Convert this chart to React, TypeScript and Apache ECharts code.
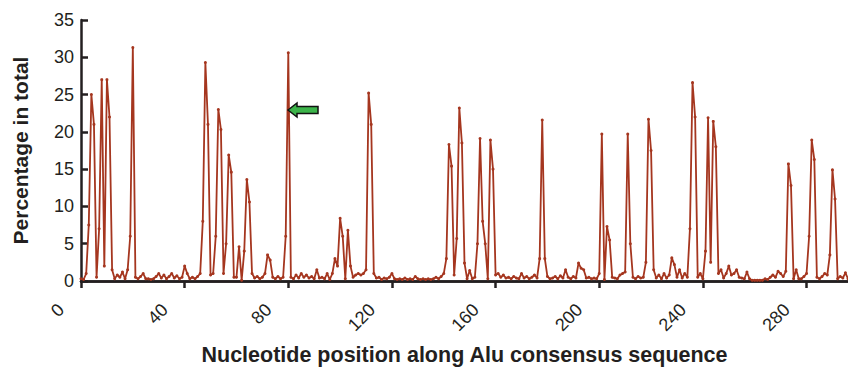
import React, { useEffect, useRef } from "react";
import * as echarts from "echarts";

// Percentage in total at each nucleotide position 0..296
const percentages: number[] = [
  0.3, 0.2, 1.0, 7.5, 25, 21, 0.5, 7, 27, 2,
  27, 22, 1.5, 0.3, 0.8, 0.5, 1.2, 0.3, 1.5, 6,
  31.3, 0.5, 0.3, 0.6, 1.0, 0.3, 0.3, 0.2, 0.3, 0.6,
  1.0, 0.4, 0.8, 0.3, 0.6, 1.0, 0.4, 0.7, 0.3, 0.5,
  2.0, 1.0, 0.3, 0.5, 0.3, 0.6, 1.0, 8, 29.3, 21,
  0.8, 1.0, 6, 23, 20.3, 1.0, 5, 16.9, 14.6, 0.5,
  0.5, 4.6, 0.1, 4, 13.6, 10.6, 1.0, 0.4, 0.6, 0.3,
  0.5, 1.0, 3.5, 2.8, 0.5, 0.3, 0.6, 0.3, 0.5, 6,
  30.6, 0.5, 0.3, 0.8, 0.4, 1.0, 0.5, 0.8, 0.4, 0.6,
  0.3, 1.5, 0.4, 0.5, 0.3, 1.0, 0.2, 1.0, 3.0, 2.0,
  8.4, 6, 0.3, 6.8, 2, 0.5, 0.8, 1.0, 0.8, 1.0,
  1.5, 25.2, 21, 1.0, 0.4, 0.5, 0.2, 0.4, 0.3, 0.5,
  1.0, 0.3, 0.2, 0.3, 0.2, 0.4, 0.2, 0.3, 0.2, 0.6,
  0.3, 0.2, 0.3, 0.2, 0.3, 0.2, 0.3, 0.5, 0.3, 0.6,
  1.0, 3, 18.3, 15.4, 0.8, 5.7, 23.2, 18.5, 2.4, 0.3,
  1.4, 0.3, 0.5, 5, 19.1, 8, 5, 0.3, 18.9, 15,
  0.8, 1.0, 0.5, 0.8, 0.4, 0.5, 0.3, 0.6, 0.4, 0.3,
  1.0, 0.4, 0.6, 0.3, 0.5, 0.8, 0.4, 3, 21.6, 3,
  0.6, 0.3, 0.4, 0.6, 0.3, 0.7, 0.4, 1.5, 0.5, 0.3,
  0.6, 0.4, 2.4, 1.7, 1.5, 0.4, 0.5, 0.3, 0.4, 0.3,
  1.0, 19.7, 0.2, 7.3, 5.5, 0.5, 0.4, 0.3, 0.8, 1.0,
  1.2, 19.7, 5, 0.5, 0.3, 0.6, 0.4, 0.5, 2.5, 21.7,
  17.5, 1.5, 0.4, 0.8, 0.3, 1.0, 0.4, 0.8, 3.1, 2.2,
  0.5, 1.5, 0.4, 1.0, 0.5, 7, 26.6, 22, 0.5, 1.0,
  0.3, 4, 21.9, 2.5, 21.4, 18, 1.0, 1.5, 0.4, 1.0,
  2.0, 0.8, 1.0, 1.5, 0.5, 0.4, 0.3, 1.2, 0.3, 0.1,
  0.1, 0.1, 0.1, 0.1, 0.3, 0.2, 0.5, 0.8, 0.5, 1.3,
  1.0, 0.6, 1.3, 15.7, 12.8, 0.3, 1.5, 0.3, 0.3, 0.6,
  1.0, 6, 18.9, 16.3, 0.5, 0.3, 0.6, 1.0, 0.8, 3.5,
  14.9, 11, 0.3, 0.6, 0.4, 1.1, 0.3,
];

const xTicks: number[] = [0, 40, 80, 120, 160, 200, 240, 280];
const yTicks: number[] = [0, 5, 10, 15, 20, 25, 30, 35];
const xMax = 296;
const yMax = 35;

const FONT = "'Liberation Sans', Arial, Helvetica, sans-serif";
const LINE = "#a5361f";
const AXIS = "#231f20";

export default function App() {
  const ref = useRef<HTMLDivElement>(null);

  useEffect(() => {
    if (!ref.current) return;
    const chart = echarts.init(ref.current, undefined, { renderer: "svg" });
    const data = percentages.map((v, i) => [i, v]);

    chart.setOption({
      animation: false,
      backgroundColor: "#ffffff",
      textStyle: { fontFamily: FONT },
      grid: { left: 81, right: 0, top: 20, bottom: 81, containLabel: false },
      xAxis: [
        {
          type: "value",
          min: 0,
          max: xMax,
          interval: 40,
          position: "bottom",
          name: "Nucleotide position along Alu consensus sequence",
          nameLocation: "middle",
          nameGap: 63,
          nameTextStyle: { fontFamily: FONT, fontSize: 21.5, fontWeight: "bold", color: AXIS },
          axisLine: { show: true, onZero: false, lineStyle: { color: AXIS, width: 2.5 } },
          axisTick: { show: true, inside: false, length: 7, lineStyle: { color: AXIS, width: 2.5 } },
          axisLabel: {
            rotate: 45,
            margin: 6,
            padding: [0, 28, 0, 0],
            fontSize: 18,
            color: AXIS,
            fontFamily: FONT,
            showMaxLabel: false,
            formatter: (v: number) => (xTicks.includes(v) ? String(v) : ""),
          },
          splitLine: { show: false },
        },
        {
          type: "value",
          min: 0,
          max: xMax,
          position: "top",
          axisLine: { show: true, lineStyle: { color: AXIS, width: 2.5 } },
          axisTick: { show: false },
          axisLabel: { show: false },
          splitLine: { show: false },
        },
      ],
      yAxis: {
        type: "value",
        min: 0,
        max: yMax,
        interval: 5,
        name: "Percentage in total",
        nameLocation: "middle",
        nameGap: 50,
        nameTextStyle: { fontFamily: FONT, fontSize: 21, fontWeight: "bold", color: AXIS },
        axisLine: { show: true, lineStyle: { color: AXIS, width: 2.5 } },
        axisTick: { show: true, inside: true, length: 7, lineStyle: { color: AXIS, width: 2.5 } },
        axisLabel: {
          margin: 7,
          fontSize: 18,
          color: AXIS,
          fontFamily: FONT,
          formatter: (v: number) => (yTicks.includes(v) ? String(v) : ""),
        },
        splitLine: { show: false },
      },
      series: [
        {
          type: "line",
          xAxisIndex: 0,
          data,
          showSymbol: true,
          showAllSymbol: true,
          symbol: "circle",
          symbolSize: 3,
          itemStyle: { color: LINE },
          lineStyle: { color: LINE, width: 1.8 },
          clip: true,
          z: 3,
        },
      ],
      graphic: [
        {
          type: "polygon",
          z: 10,
          shape: {
            points: [
              [288, 110],
              [297, 103],
              [297, 106.5],
              [318, 106.5],
              [318, 113.5],
              [297, 113.5],
              [297, 117],
            ],
          },
          style: { fill: "#3cb44a", stroke: "#111111", lineWidth: 1.5 },
        },
      ],
    });

    return () => chart.dispose();
  }, []);

  return (
    <div
      ref={ref}
      style={{ position: "fixed", left: 0, top: 0, width: 848, height: 371, background: "#fff" }}
    />
  );
}
